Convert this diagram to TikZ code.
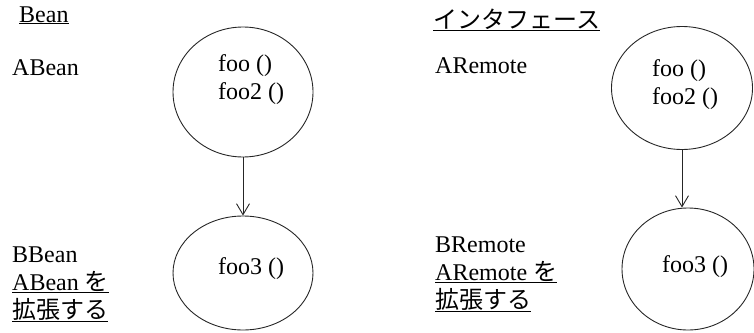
\documentclass[tikz,border=0pt]{standalone}
\usepackage{fontspec}
\setmainfont{Liberation Serif}
\newfontfamily\jp{Noto Sans CJK JP}
\usetikzlibrary{shapes.geometric,arrows.meta}
\tikzset{
  txt/.style={inner sep=0pt, anchor=base west, align=left, font=\fontsize{24}{28}\selectfont},
  oval/.style={ellipse, draw=black!85, line width=0.9pt, inner sep=0pt},
  inherit/.style={draw=black!85, line width=0.9pt, -{Straight Barb[length=11pt,width=13pt]}}
}
\begin{document}
\begin{tikzpicture}[x=1pt,y=-1pt]
\useasboundingbox (0,0) rectangle (754,332);
% left column: Bean (multi-line nodes are placed by their last baseline)
\node[txt] (bean) at (19,22) {\underline{Bean}};
\node[txt] (abean) at (12,75) {ABean};
\node[txt] (bbean) at (12,318) {BBean\\\underline{ABean {\jp を}}\\\underline{{\jp 拡張する}}};
\node[oval, minimum width=140pt, minimum height=130pt] (e1) at (243,92) {};
\node[oval, minimum width=140pt, minimum height=114pt] (e2) at (243,273) {};
\node[txt] (m1) at (218,99) {foo ()\\foo2 ()};
\node[txt] (m2) at (218,274) {foo3 ()};
\draw[inherit] (e1.south) -- (e2.north);
% right column: interface
\node[txt] (intf) at (433,28) {\underline{{\jp インタフェース}}};
\node[txt] (aremote) at (435,73) {ARemote};
\node[txt] (bremote) at (435,308) {BRemote\\\underline{ARemote {\jp を}}\\\underline{{\jp 拡張する}}};
\node[oval, minimum width=141pt, minimum height=123pt] (e3) at (682,88) {};
\node[oval, minimum width=132pt, minimum height=122pt] (e4) at (688,269) {};
\node[txt] (m3) at (652,104) {foo ()\\foo2 ()};
\node[txt] (m4) at (662,272) {foo3 ()};
\draw[inherit] (e3.south) -- (e3.south |- e4.north);
\end{tikzpicture}
\end{document}
